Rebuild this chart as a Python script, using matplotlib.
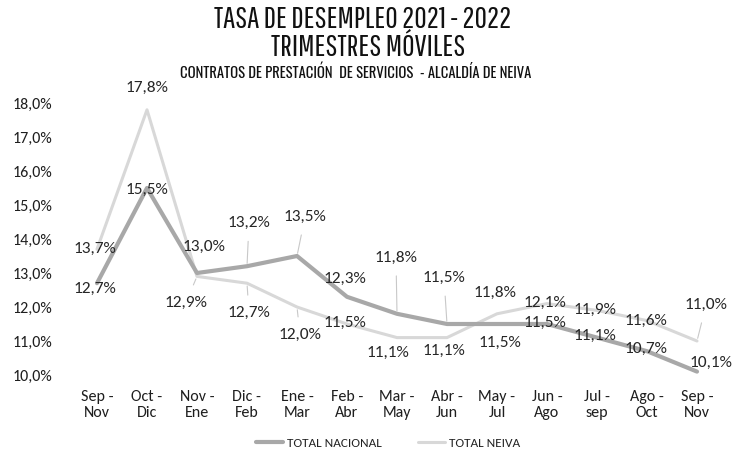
import matplotlib
matplotlib.use("Agg")
import matplotlib.pyplot as plt
from matplotlib.ticker import FuncFormatter

categories = ["Sep -\nNov", "Oct -\nDic", "Nov -\nEne", "Dic -\nFeb", "Ene -\nMar", "Feb -\nAbr",
              "Mar -\nMay", "Abr -\nJun", "May -\nJul", "Jun -\nAgo", "Jul -\nsep", "Ago -\nOct", "Sep -\nNov"]
nacional = [12.7, 15.5, 13.0, 13.2, 13.5, 12.3, 11.8, 11.5, 11.5, 11.5, 11.1, 10.7, 10.1]
neiva = [13.7, 17.8, 12.9, 12.7, 12.0, 11.5, 11.1, 11.1, 11.8, 12.1, 11.9, 11.6, 11.0]
yticks = [10, 11, 12, 13, 14, 15, 16, 17, 18]

# label offsets in pixels (dx, dy up), and whether to draw leader line
nac_off = [(-2, -6, False), (0, -2, False), (7, 26, False), (2, 43, True), (8, 39, True), (-2, 18, False),
           (-1, 56, True), (-3, 46, True), (3, -19, False), (-2, 1, False), (-2, 2, False), (-1, 2, False), (14, 9, False)]
nei_off = [(-2, 0, False), (0, 22, False), (-11, -26, True), (2, -30, True), (3, -28, True), (-2, 1, False),
           (-9, -15, False), (-3, -13, False), (-2, 21, False), (-2, 1, False), (-2, 1, False), (-1, 0, False), (9, 36, True)]

BODY = ["Carlito", "Lato", "DejaVu Sans"]
TITLE = ["Pathway Gothic One", "Oswald", "DejaVu Sans"]
SUB = ["Oswald", "Pathway Gothic One", "DejaVu Sans"]

DPI = 100
fig = plt.figure(figsize=(7.33, 4.58), dpi=DPI)
W, H = 733, 458
left, right = 72, 722
top, bottom = 103, 375
ax = fig.add_axes([left / W, 1 - bottom / H, (right - left) / W, (bottom - top) / H])

x = list(range(len(categories)))
c_nac = "#a8a8a8"
c_nei = "#d8d8d8"
ax.plot(x, neiva, color=c_nei, lw=2.2, solid_capstyle="round", zorder=2, label="TOTAL NEIVA", clip_on=False)
ax.plot(x, nacional, color=c_nac, lw=3.0, solid_capstyle="round", zorder=3, label="TOTAL NACIONAL", clip_on=False)

ax.set_xlim(-0.5, len(categories) - 0.5)
ax.set_ylim(10, 18)
ax.set_yticks(yticks)
ax.yaxis.set_major_formatter(FuncFormatter(lambda v, p: f"{v:.1f}%".replace(".", ",")))
ax.set_xticks(x)
ax.set_xticklabels(categories)
for s in ax.spines.values():
    s.set_visible(False)
ax.tick_params(axis="both", length=0, labelsize=11.5, colors="#1e1e1e")
ax.tick_params(axis="y", pad=14)
ax.tick_params(axis="x", pad=11)
for lab in ax.get_xticklabels() + ax.get_yticklabels():
    lab.set_fontfamily(BODY)
    lab.set_linespacing(1.2)

pt = 72.0 / DPI

def add_labels(vals, offs):
    for i, (v, (dx, dy, lead)) in enumerate(zip(vals, offs)):
        txt = f"{v:.1f}%".replace(".", ",")
        kw = {}
        if lead:
            kw["arrowprops"] = dict(arrowstyle="-", color="#c8c8c8", lw=0.8, shrinkA=6, shrinkB=2)
        ax.annotate(txt, (i, v), xytext=(dx * pt, dy * pt), textcoords="offset points",
                    ha="center", va="center", fontsize=12.5, fontfamily=BODY, color="#262626",
                    annotation_clip=False, zorder=5, **kw)

add_labels(nacional, nac_off)
add_labels(neiva, nei_off)

fig.text(363 / W, 1 - 20 / H, "TASA DE DESEMPLEO 2021 - 2022", ha="center", va="center",
         fontsize=22, fontfamily=TITLE, color="#111111")
fig.text(368 / W, 1 - 48 / H, "TRIMESTRES MÓVILES", ha="center", va="center",
         fontsize=22, fontfamily=TITLE, color="#111111")
fig.text(356 / W, 1 - 73 / H, "CONTRATOS DE PRESTACIÓN  DE SERVICIOS  - ALCALDÍA DE NEIVA", ha="center", va="center",
         fontsize=10.5, fontfamily=SUB, fontweight="bold", color="#111111")

h, l = ax.get_legend_handles_labels()
leg = fig.legend(h[::-1], l[::-1], loc="center", bbox_to_anchor=(388 / W, 1 - 443 / H), ncol=2,
                 frameon=False, prop={"family": BODY, "size": 9.5}, handlelength=2.0, columnspacing=2.8,
                 handletextpad=0.3)
for t in leg.get_texts():
    t.set_color("#222222")

fig.savefig("out.png", dpi=DPI)
